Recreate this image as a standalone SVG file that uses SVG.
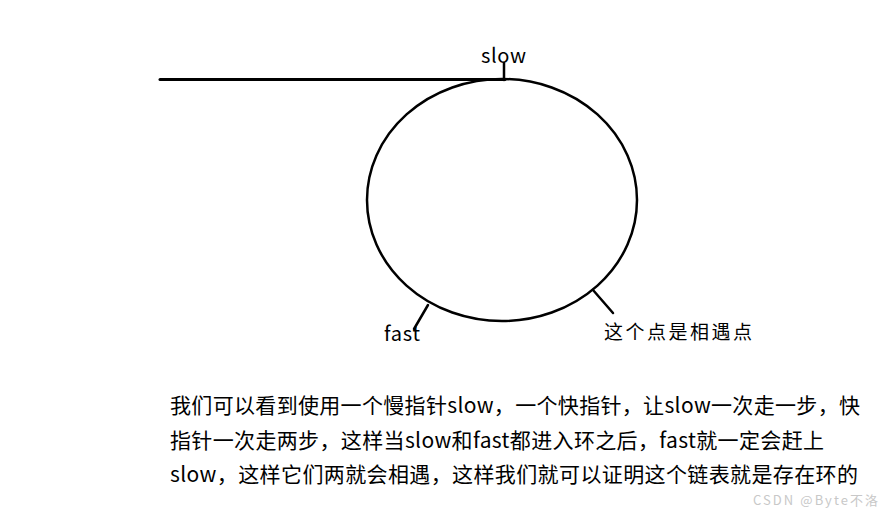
<svg xmlns="http://www.w3.org/2000/svg" width="883" height="510" viewBox="0 0 883 510">
<style>
.t{font-family:"Noto Sans CJK SC","Noto Sans",sans-serif;fill:#000}
.ln{stroke:#000;fill:none;stroke-linecap:round}
</style>
<rect width="883" height="510" fill="#fff"/>
<g id="ring">
<ellipse cx="502" cy="200" rx="135" ry="121" class="ln" stroke-width="2.5"/>
</g>
<g id="connectors">
<line x1="160" y1="79.5" x2="505" y2="79.5" class="ln" stroke-width="3" stroke-linecap="butt"/>
<line x1="504" y1="63" x2="504" y2="80" class="ln" stroke-width="2.5"/>
<line x1="428" y1="305" x2="414" y2="329" class="ln" stroke-width="2.5"/>
<line x1="593" y1="290" x2="613" y2="313" class="ln" stroke-width="2.5"/>
</g>
<g id="slow"><text class="t" x="481" y="63" font-size="20" textLength="45">slow</text></g>
<g id="fast"><text class="t" x="384" y="341" font-size="20" textLength="36">fast</text></g>
<g id="meet"><text class="t" x="604" y="339" font-size="19" textLength="148">这个点是相遇点</text></g>
<g id="desc">
<text class="t" x="170" y="413" font-size="21" textLength="690">我们可以看到使用一个慢指针slow，一个快指针，让slow一次走一步，快</text>
<text class="t" x="170" y="448" font-size="21" textLength="654">指针一次走两步，这样当slow和fast都进入环之后，fast就一定会赶上</text>
<text class="t" x="170" y="482" font-size="21" textLength="688">slow，这样它们两就会相遇，这样我们就可以证明这个链表就是存在环的</text>
</g>
<g id="watermark"><text class="t" x="753" y="505" font-size="13" style="fill:#c8c8c8" textLength="125">CSDN @Byte不洛</text></g>
</svg>
